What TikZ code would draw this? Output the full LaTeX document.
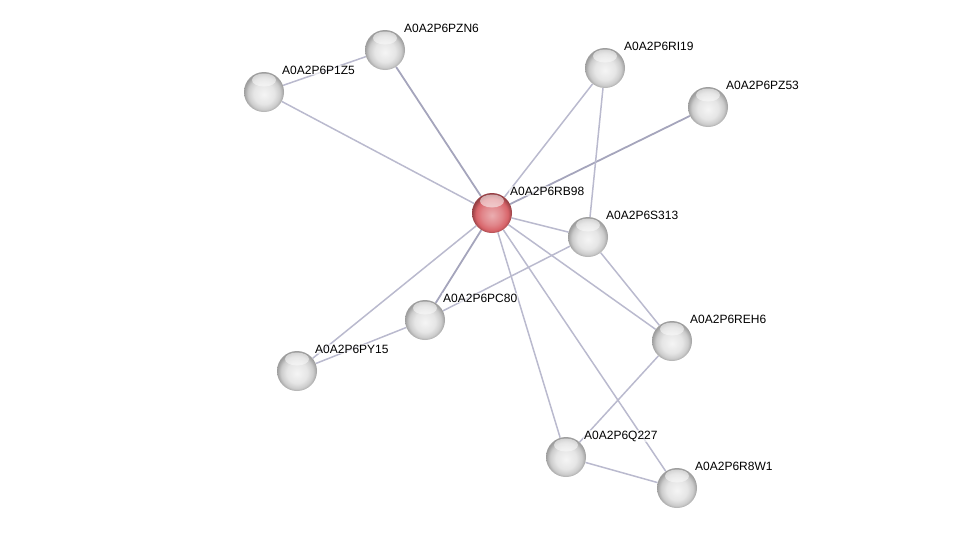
\documentclass[tikz,border=0pt]{standalone}
\usepackage{fontspec}
\setmainfont{Liberation Sans}
\usetikzlibrary{calc}
\usetikzlibrary{backgrounds}

\definecolor{edgegrey}{RGB}{186,186,206}
\definecolor{edgedark}{RGB}{165,165,188}
\definecolor{nodered}{RGB}{214,92,98}
\pgfdeclareradialshading{greyball}{\pgfpoint{0bp}{-3bp}}{color(0bp)=(white!96!black); color(13bp)=(white!90!black); color(20bp)=(white!80!black); color(25bp)=(white!62!black); color(50bp)=(white!62!black)}
\pgfdeclareradialshading{redball}{\pgfpoint{0bp}{-3bp}}{color(0bp)=(nodered!50!white); color(13bp)=(nodered!75!white); color(20bp)=(nodered!95!white); color(25bp)=(nodered!70!black); color(50bp)=(nodered!70!black)}

\begin{document}
\begin{tikzpicture}[x=1pt, y=-1pt,
    protein/.style = {circle, minimum size=40pt, inner sep=0pt, shading=greyball,
        path picture={\shade[top color=white, bottom color=white!90!gray, opacity=.55]
            ([yshift=-8pt]path picture bounding box.north) ellipse (12pt and 6.5pt);}},
    query/.style = {protein, shading=redball},
    lbl/.style = {anchor=west, inner sep=1pt, fill=white, fill opacity=.6, text opacity=1,
        font=\fontsize{12}{14}\selectfont},
    link/.style = {draw=edgegrey, line width=1.5pt},
    strong/.style = {draw=edgedark, line width=1.8pt}]
        \useasboundingbox (0,0) rectangle (976,533);

        \node[query] (rb98) at (492,213) {};
        \node[protein] (pzn6) at (385,50) {};
        \node[protein] (p1z5) at (264,92) {};
        \node[protein] (ri19) at (605,68) {};
        \node[protein] (pz53) at (708,107) {};
        \node[protein] (s313) at (588,237) {};
        \node[protein] (pc80) at (425,320) {};
        \node[protein] (py15) at (297,371) {};
        \node[protein] (reh6) at (672,341) {};
        \node[protein] (q227) at (566,457) {};
        \node[protein] (r8w1) at (677,488) {};

        \begin{scope}[on background layer]
            \draw[strong] (rb98) -- (pzn6);
            \draw[link] (rb98) -- (p1z5);
            \draw[link] (p1z5) -- (pzn6);
            \draw[link] (rb98) -- (ri19);
            \draw[strong] (rb98) -- (pz53);
            \draw[link] (rb98) -- (s313);
            \draw[strong] (rb98) -- (pc80);
            \draw[link] (rb98) -- (py15);
            \draw[link] (rb98) -- (reh6);
            \draw[link] (rb98) -- (q227);
            \draw[link] (rb98) -- (r8w1);
            \draw[link] (s313) -- (ri19);
            \draw[link] (s313) -- (pc80);
            \draw[link] (s313) -- (reh6);
            \draw[link] (pc80) -- (py15);
            \draw[link] (reh6) -- (q227);
            \draw[link] (q227) -- (r8w1);
        \end{scope}

        \node[lbl] (rb98-l) at ($(rb98)+(17,-22)$) {A0A2P6RB98};
        \node[lbl] (pzn6-l) at ($(pzn6)+(18,-22)$) {A0A2P6PZN6};
        \node[lbl] (p1z5-l) at ($(p1z5)+(17,-22)$) {A0A2P6P1Z5};
        \node[lbl] (ri19-l) at ($(ri19)+(18,-22)$) {A0A2P6RI19};
        \node[lbl] (pz53-l) at ($(pz53)+(17,-22)$) {A0A2P6PZ53};
        \node[lbl] (s313-l) at ($(s313)+(17,-22)$) {A0A2P6S313};
        \node[lbl] (pc80-l) at ($(pc80)+(17,-22)$) {A0A2P6PC80};
        \node[lbl] (py15-l) at ($(py15)+(17,-22)$) {A0A2P6PY15};
        \node[lbl] (reh6-l) at ($(reh6)+(17,-22)$) {A0A2P6REH6};
        \node[lbl] (q227-l) at ($(q227)+(17,-21)$) {A0A2P6Q227};
        \node[lbl] (r8w1-l) at ($(r8w1)+(17,-22)$) {A0A2P6R8W1};
\end{tikzpicture}
\end{document}
